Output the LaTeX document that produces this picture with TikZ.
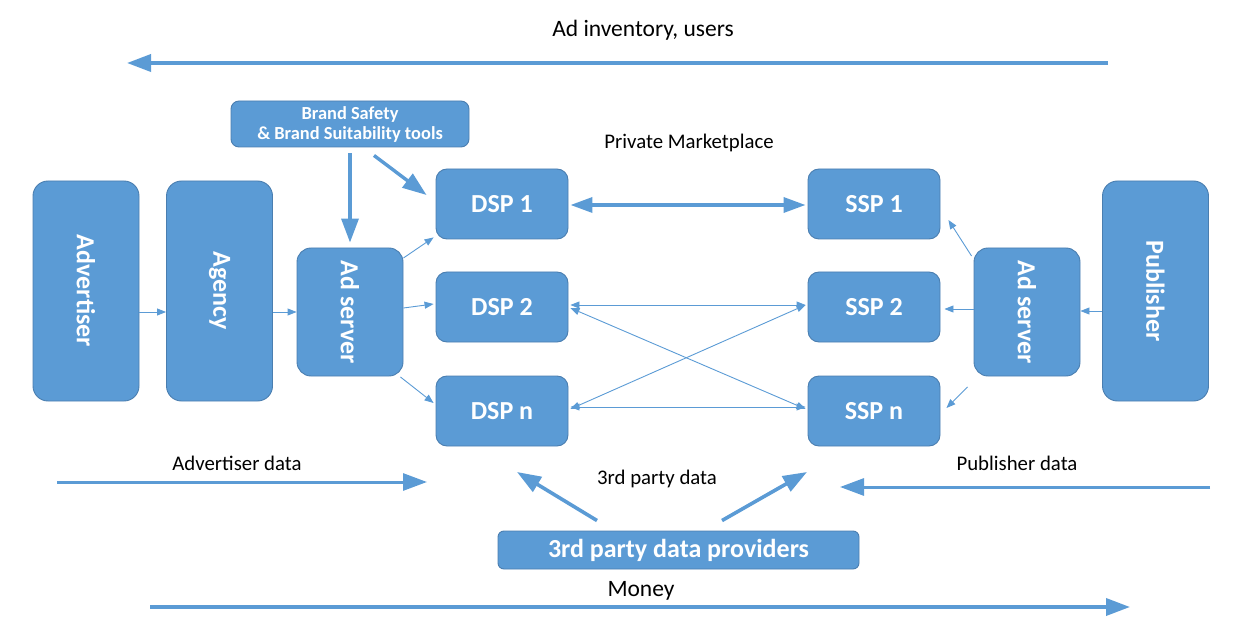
\documentclass[tikz,border=0pt]{standalone}
\usepackage{fontspec}
\usepackage{graphicx}
\setmainfont{Carlito}
\usetikzlibrary{arrows.meta}
\definecolor{boxblue}{HTML}{5B9BD5}
\definecolor{boxedge}{HTML}{4A7EB0}
\begin{document}
\begin{tikzpicture}[x=1pt,y=-1pt,
  box/.style={draw=boxedge, line width=0.9pt, fill=boxblue, text=white, inner sep=0pt, align=center,
    font=\bfseries\fontsize{26}{30}\selectfont},
  tall/.style={box, minimum width=106pt, minimum height=220pt, rounded corners=15pt},
  adsrv/.style={box, minimum width=106pt, minimum height=128pt, rounded corners=14pt},
  xsp/.style={box, minimum width=132pt, minimum height=70pt, rounded corners=11pt},
  lab/.style={font=\fontsize{20.8}{24}\selectfont, text=black, inner sep=0pt},
  biglab/.style={lab, font=\fontsize{23.5}{27}\selectfont},
  bigarrow/.style={draw=boxblue, line width=3.6pt, -{Triangle[length=24pt,width=17pt]}},
  midarrow/.style={draw=boxblue, line width=3.4pt, {Triangle[length=22pt,width=15pt]}-{Triangle[length=22pt,width=15pt]}},
  thinarrow/.style={draw=boxblue, line width=0.9pt, -{Triangle[length=9pt,width=7pt]}},
  thinboth/.style={draw=boxblue, line width=0.9pt, {Triangle[length=9pt,width=7pt]}-{Triangle[length=9pt,width=7pt]}}
]
\useasboundingbox (0,0) rectangle (1250,620);

% boxes
\node[tall] (adv) at (86,291) {\rotatebox[origin=c]{-90}{Advertiser}};
\node[tall] (agc) at (219.5,291) {\rotatebox[origin=c]{-90}{Agency}};
\node[adsrv] (adl) at (350,312) {\rotatebox[origin=c]{-90}{Ad server}};
\node[box, minimum width=238pt, minimum height=46pt, rounded corners=8pt,
  font=\bfseries\fontsize{18.4}{21}\selectfont] (brand) at (350,124) {Brand Safety\\[-1pt]\& Brand Suitability tools};
\node[xsp] (dsp1) at (502,204) {DSP 1};
\node[xsp] (dsp2) at (502,307) {DSP 2};
\node[xsp] (dspn) at (502,411) {DSP n};
\node[xsp] (ssp1) at (874,204) {SSP 1};
\node[xsp] (ssp2) at (874,307) {SSP 2};
\node[xsp] (sspn) at (874,411) {SSP n};
\node[adsrv] (adr) at (1027,312) {\rotatebox[origin=c]{-90}{Ad server}};
\node[tall] (pub) at (1155.5,291) {\rotatebox[origin=c]{-90}{Publisher}};
\node[box, minimum width=361pt, minimum height=38pt, rounded corners=6pt] (tpd) at (678.5,550) {3rd party data providers};

% labels
\node[biglab] (linv) at (643,30) {Ad inventory, users};
\node[lab] (lpm) at (689,143) {Private Marketplace};
\node[lab] (lad) at (237,463) {Advertiser data};
\node[lab] (lpd) at (1017,463) {Publisher data};
\node[lab] (ltp) at (657,479) {3rd party data};
\node[biglab] (lmon) at (641,591) {Money};

% free ends
\coordinate (invA) at (1108,63);
\coordinate (invB) at (127,63);
\coordinate (monA) at (150,607);
\coordinate (monB) at (1130,607);
\coordinate (adA) at (57,482);
\coordinate (adB) at (427,482);
\coordinate (pdA) at (1210,487);
\coordinate (pdB) at (840,487);
\coordinate (tpL) at (517,472);
\coordinate (tpR) at (807,472);

% long flow arrows
\draw[bigarrow] (invA) -- (invB);
\draw[bigarrow] (monA) -- (monB);
\draw[bigarrow, line width=3pt] (adA) -- (adB);
\draw[bigarrow, line width=3pt] (pdA) -- (pdB);
\draw[bigarrow] ([xshift=-81.5pt,yshift=10pt]tpd.north) -- (tpL);
\draw[bigarrow] ([xshift=43.5pt,yshift=10pt]tpd.north) -- (tpR);

% brand safety arrows
\draw[bigarrow, line width=3.4pt] ([yshift=-6pt]brand.south) -- ([yshift=5pt]adl.north);
\draw[bigarrow, line width=3.4pt] ([xshift=24pt,yshift=-8pt]brand.south) -- ([xshift=-9pt,yshift=9pt]dsp1.west);

% private marketplace
\draw[midarrow] ([xshift=2pt,yshift=-1pt]dsp1.east) -- ([xshift=-2pt,yshift=-1pt]ssp1.west);

% thin arrows left
\draw[thinarrow] (adv.east |- 0,312) -- (agc.west |- 0,312);
\draw[thinarrow] (agc.east |- 0,312) -- (adl.west |- 0,312);
\draw[thinarrow] ([yshift=54pt]adl.east) -- ([xshift=-2pt,yshift=2pt]dsp1.south west);
\draw[thinarrow] ([yshift=4pt]adl.east) -- ([xshift=-2pt,yshift=3pt]dsp2.west);
\draw[thinarrow] ([xshift=-3pt,yshift=-65pt]adl.east) -- ([xshift=-2pt,yshift=8pt]dspn.west);

% thin arrows right
\draw[thinarrow] (pub.west |- 0,311) -- (adr.east |- 0,311);
\draw[thinarrow] ([xshift=-2pt,yshift=56pt]adr.west) -- ([xshift=8pt,yshift=-16pt]ssp1.east);
\draw[thinarrow] ([yshift=3pt]adr.west) -- ([xshift=4pt,yshift=-2pt]ssp2.east);
\draw[thinarrow] ([xshift=-6pt,yshift=-75pt]adr.west) -- ([xshift=6pt,yshift=3pt]sspn.east);

% DSP <-> SSP mesh
\draw[thinboth] ([xshift=2pt,yshift=2pt]dsp2.east) -- ([xshift=-2pt,yshift=2pt]ssp2.west);
\draw[thinboth] ([xshift=2pt,yshift=4pt]dspn.east) -- ([xshift=-2pt,yshift=4pt]sspn.west);
\draw[thinboth] ([xshift=2pt,yshift=-1pt]dsp2.east) -- ([xshift=-2pt,yshift=2pt]sspn.west);
\draw[thinboth] ([xshift=2pt,yshift=2pt]dspn.east) -- ([xshift=-2pt,yshift=2pt]ssp2.west);
\end{tikzpicture}
\end{document}
